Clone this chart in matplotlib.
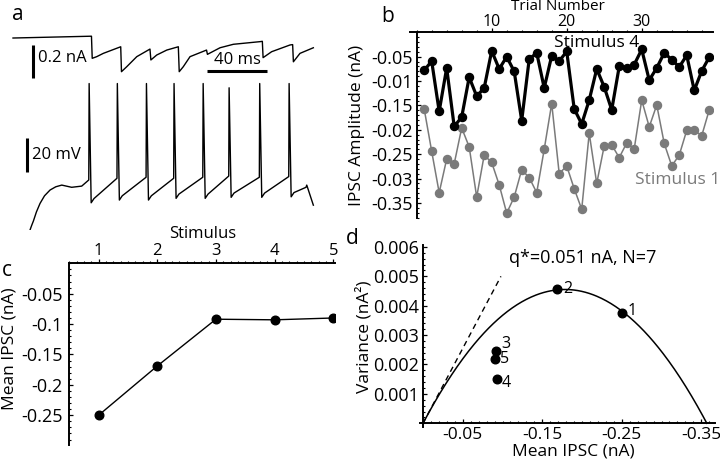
import matplotlib.pyplot as plt
from matplotlib.ticker import MultipleLocator
import numpy as np

plt.rcParams['font.family'] = ['Open Sans', 'DejaVu Sans']

# panel a: IPSC trace (ms, nA)
ipsc_t = [0, 52.3, 52.8, 55.8, 60.2, 71.8, 72.3, 75.8, 82.5, 91.3, 91.9, 95.8, 102.5, 110.2,
          110.8, 113.5, 118.0, 129.0, 129.6, 138.0, 146.9, 164.7, 166.2, 166.7, 172.4, 184.7,
          186.4, 186.9, 191.3, 200.2]
ipsc_na = [-0.008, 0.003, -0.131, -0.121, -0.101, -0.061, -0.212, -0.182, -0.121, -0.075,
           -0.141, -0.111, -0.081, -0.061, -0.212, -0.182, -0.121, -0.081, -0.107, -0.067,
           -0.046, -0.030, -0.028, -0.127, -0.091, -0.050, -0.048, -0.152, -0.101, -0.067]

# panel a: membrane potential (ms, mV)
pre_t = [11.3, 12.4, 13.6, 15.6, 18.0, 21.0, 24.7, 28.5, 32.5, 39.1, 45.8, 50.5]
pre_mv = [-76.7, -74.0, -71.3, -66.0, -61.0, -56.5, -53.1, -51.2, -50.2, -51.5, -50.8, -47.2]
spike_ms = [50.5, 69.3, 88.7, 107.1, 126.5, 143.8, 164.2, 183.8]
spike_peak_mv = [9.5, 9.5, 9.5, 9.5, 9.5, 7.0, 9.5, 9.5]
spike_trough_mv = [-60.6, -59.0, -59.0, -58.0, -58.0, -57.4, -57.4, -57.1]
spike_thresh_mv = [-47.2, -46.2, -45.6, -46.2, -45.6, -44.9, -45.6, -45.2]
tail_t = [195.3, 195.8, 200.2]
tail_mv = [-51.5, -50.2, -62.0]

# panel b: single-trial IPSC amplitudes (nA)
trial = np.arange(1, 40)
amp_stim4 = [-0.078, -0.059, -0.162, -0.073, -0.193, -0.174, -0.092, -0.131, -0.114, -0.038,
             -0.075, -0.050, -0.080, -0.181, -0.055, -0.042, -0.114, -0.048, -0.059, -0.039,
             -0.157, -0.188, -0.139, -0.075, -0.112, -0.159, -0.070, -0.073, -0.066, -0.035,
             -0.098, -0.073, -0.042, -0.056, -0.071, -0.047, -0.119, -0.079, -0.051]
amp_stim1 = [-0.157, -0.244, -0.329, -0.260, -0.270, -0.196, -0.235, -0.338, -0.252, -0.267,
             -0.313, -0.371, -0.338, -0.282, -0.298, -0.329, -0.240, -0.146, -0.290, -0.274,
             -0.321, -0.363, -0.207, -0.310, -0.233, -0.231, -0.257, -0.227, -0.239, -0.139,
             -0.194, -0.149, -0.228, -0.274, -0.252, -0.201, -0.201, -0.212, -0.159]
b_yticks = [-0.05, -0.10, -0.15, -0.20, -0.25, -0.30, -0.35]
b_yticklabels = ['-0.05', '-0.01', '-0.15', '-0.02', '-0.25', '-0.03', '-0.35']

# panel c: mean IPSC per stimulus
stimulus = [1, 2, 3, 4, 5]
mean_ipsc = [-0.250, -0.169, -0.092, -0.093, -0.090]

# panel d: variance-mean
variance = [0.00375, 0.00458, 0.00245, 0.00150, 0.00220]
q_na = 0.051
n_sites = 7
d_xticks = [-0.05, -0.15, -0.25, -0.35]
d_yticks = [0.001, 0.002, 0.003, 0.004, 0.005, 0.006]

W, H = 720, 462


def px(x, y):
    return x / W, 1 - y / H


def style_ticks(ax):
    ax.tick_params(which='major', length=2.6, width=0.9, labelsize=13)
    ax.tick_params(which='minor', length=1.5, width=0.8)
    for s in ax.spines.values():
        s.set_linewidth(1.4)


fig = plt.figure(figsize=(7.2, 4.62), dpi=100)

# ---- a
rect_a = [0, 232 / H, 0.5, 230 / H]
ax_v = fig.add_axes(rect_a)
ax_i = fig.add_axes(rect_a)
for ax in (ax_v, ax_i):
    ax.set_xlim(-8.67, 231.3)
    ax.axis('off')
ax_v.set_ylim(-76.6, 58.6)
ax_i.set_ylim(-1.1715, 0.2224)

v_t, v_mv = list(pre_t), list(pre_mv)
for i, ts in enumerate(spike_ms):
    v_t += [ts + 0.25, ts + 1.6, ts + 3.5]
    v_mv += [spike_peak_mv[i], spike_trough_mv[i], spike_trough_mv[i] + 2.5]
    if i + 1 < len(spike_ms):
        v_t.append(spike_ms[i + 1])
        v_mv.append(spike_thresh_mv[i + 1])
v_t += tail_t
v_mv += tail_mv

ax_v.plot(v_t, v_mv, color='k', lw=1.0)
ax_i.plot(ipsc_t, ipsc_na, color='k', lw=1.0)

ax_i.plot([13.3, 13.3], [-0.05, -0.25], color='k', lw=2.2, solid_capstyle='butt')
ax_i.text(16.5, -0.13, '0.2 nA', fontsize=12, va='center', ha='left')
ax_v.plot([9.3, 9.3], [-22.5, -42.5], color='k', lw=2.2, solid_capstyle='butt')
ax_v.text(12.5, -32.5, '20 mV', fontsize=12, va='center', ha='left')
ax_i.plot([129.3, 169.3], [-0.208, -0.208], color='k', lw=2.2, solid_capstyle='butt')
ax_i.text(149.3, -0.19, '40 ms', fontsize=12, va='bottom', ha='center')

# ---- b
axb = fig.add_axes([410 / W, (H - 218) / H, 303 / W, 185.6 / H])
axb.plot(trial, amp_stim1, '-o', color='#7a7a7a', lw=1.1, ms=5.8)
axb.plot(trial, amp_stim4, '-o', color='k', lw=2.3, ms=5.8)
axb.set_xlim(-0.89, 39.5)
axb.set_ylim(-0.381, 0)
axb.spines['left'].set_position(('data', 0))
axb.spines['right'].set_visible(False)
axb.spines['bottom'].set_visible(False)
axb.xaxis.tick_top()
axb.set_xticks([10, 20, 30])
axb.xaxis.set_minor_locator(MultipleLocator(2))
axb.set_yticks(b_yticks, labels=b_yticklabels)
axb.yaxis.set_minor_locator(MultipleLocator(0.01))
style_ticks(axb)
axb.tick_params(axis='x', which='both', direction='out', pad=-0.8, labelsize=11.5)
axb.tick_params(axis='y', which='both', direction='in', pad=3)

# ---- c
axc = fig.add_axes([69.3 / W, 17 / H, 265.7 / W, 181.7 / H])
axc.plot(stimulus, mean_ipsc, '-o', color='k', lw=1.0, ms=6.2)
axc.set_xlim(0.5, 5.03)
axc.set_ylim(-0.299, 0)
axc.spines['right'].set_visible(False)
axc.spines['bottom'].set_visible(False)
axc.xaxis.tick_top()
axc.set_xticks(stimulus)
axc.xaxis.set_minor_locator(MultipleLocator(0.125))
axc.set_yticks([-0.05, -0.1, -0.15, -0.2, -0.25], labels=['-0.05', '-0.1', '-0.15', '-0.2', '-0.25'])
axc.yaxis.set_minor_locator(MultipleLocator(0.01))
style_ticks(axc)
axc.tick_params(axis='x', which='both', direction='out', pad=0.8, labelsize=12)
axc.tick_params(axis='y', which='both', direction='in', pad=5)

# ---- d
axd = fig.add_axes([420 / W, (H - 426.7) / H, 295 / W, 181.7 / H])
i_fit = np.linspace(0, -q_na * n_sites, 300)
axd.plot(i_fit, q_na * np.abs(i_fit) - i_fit ** 2 / n_sites, color='k', lw=1.1)
i_lin = np.array([0, -0.098])
axd.plot(i_lin, q_na * np.abs(i_lin), color='k', lw=1.0, ls=(0, (4, 3)))
axd.plot(mean_ipsc, variance, 'o', color='k', ms=6.2)
offsets = [(4, 1.5), (4.3, 0), (3.6, 5.4), (3.6, -2.4), (4, 0)]
for k, (xv, yv) in enumerate(zip(mean_ipsc, variance)):
    axd.annotate(str(stimulus[k]), (xv, yv), xytext=offsets[k], textcoords='offset points',
                 ha='left', va='center', fontsize=11.5)
axd.set_xlim(0.0038, -0.3673)
axd.set_ylim(-0.000116, 0.006065)
axd.spines['left'].set_position(('data', 0))
axd.spines['bottom'].set_position(('data', 0))
axd.spines['right'].set_visible(False)
axd.spines['top'].set_visible(False)
axd.set_xticks(d_xticks, labels=['-0.05', '-0.15', '-0.25', '-0.35'])
axd.xaxis.set_minor_locator(MultipleLocator(0.01))
axd.set_yticks(d_yticks, labels=['0.001', '0.002', '0.003', '0.004', '0.005', '0.006'])
axd.yaxis.set_minor_locator(MultipleLocator(0.0002))
style_ticks(axd)
axd.tick_params(axis='both', which='both', direction='in', pad=3)
axd.tick_params(axis='x', labelsize=12.5)
axd.text(0.55, 0.93, 'q*=0.051 nA, N=7', transform=axd.transAxes, ha='center', va='center',
         fontsize=13)

# ---- labels and annotations
fig.text(*px(558, 7), 'Trial Number', ha='center', va='center', fontsize=11)
fig.text(*px(357, 125), 'IPSC Amplitude (nA)', ha='center', va='center', rotation=90, fontsize=12.5)
fig.text(*px(597, 43), 'Stimulus 4', ha='center', va='center', fontsize=12.5)
fig.text(*px(678, 180), 'Stimulus 1', ha='center', va='center', fontsize=12.5, color='#7a7a7a')
fig.text(*px(203, 234), 'Stimulus', ha='center', va='center', fontsize=12)
fig.text(*px(10, 349), 'Mean IPSC (nA)', ha='center', va='center', rotation=90, fontsize=12.5)
fig.text(*px(573, 452), 'Mean IPSC (nA)', ha='center', va='center', fontsize=12.5)
fig.text(*px(364, 337), 'Variance (nA²)', ha='center', va='center', rotation=90, fontsize=12.5)

for lab, (x, y) in zip('abcd', [(18, 14), (388, 16), (7, 271), (352, 238)]):
    fig.text(*px(x, y), lab, ha='center', va='center', fontsize=15)

fig.savefig('out.png', dpi=100)
